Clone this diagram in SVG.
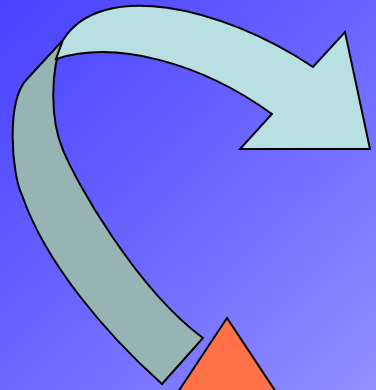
<svg xmlns="http://www.w3.org/2000/svg" width="376" height="390" viewBox="0 0 376 390">
  <defs>
    <linearGradient id="bg" x1="0" y1="0" x2="376" y2="390" gradientUnits="userSpaceOnUse">
      <stop offset="0" stop-color="#4842FF"/>
      <stop offset="0.5" stop-color="#6A66FF"/>
      <stop offset="1" stop-color="#9490FF"/>
    </linearGradient>
    <style>
      .edge { stroke: #000; stroke-width: 2; stroke-linejoin: miter; }
    </style>
  </defs>
  <rect x="0" y="0" width="376" height="390" fill="url(#bg)"/>
  <g id="arrow-back">
    <path class="edge" fill="#96B4B4" d="M162,384 C105,333 45,262 22,195 C12,175 5,100 28,78 L63,40 C50,70 50,120 63,150 C74,178 135,288 203,338 Z"/>
  </g>
  <g id="arrow-front">
    <path class="edge" fill="#B8E0E2" d="M63,40 C100,-20 220,5 313,67 L345,32 L370,149 L240,149 L272,114 C200,62 115,40 56,59 Z"/>
  </g>
  <g id="triangle">
    <path class="edge" fill="#FF7148" d="M227,318 L178,392 L276,392 Z"/>
  </g>
</svg>
